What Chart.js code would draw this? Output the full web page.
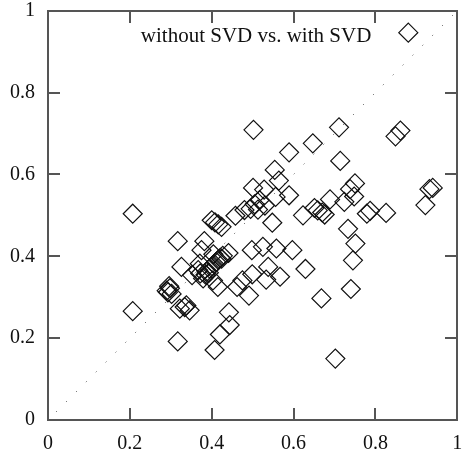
<!DOCTYPE html>
<html>
<head>
<meta charset="utf-8">
<script src="https://cdn.jsdelivr.net/npm/chart.js@4.4.1/dist/chart.umd.min.js"></script>
<style>
  html, body { margin: 0; padding: 0; background: #fff; overflow: hidden; }
  canvas { display: block; }
</style>
</head>
<body>
<canvas id="chart" width="468" height="455"></canvas>
<script>
// ---- data ----
const seriesLabel = 'without SVD vs. with SVD';

const withoutSvd = [
  0.502, 0.711, 0.849, 0.861, 0.647, 0.589, 0.714, 0.554, 0.564, 0.501,
  0.528, 0.556, 0.589, 0.750, 0.738, 0.748, 0.724, 0.689, 0.922, 0.932,
  0.940, 0.826, 0.779, 0.787, 0.623, 0.651, 0.659, 0.670, 0.676, 0.548,
  0.517, 0.505, 0.530, 0.495, 0.513, 0.480, 0.458, 0.207, 0.400, 0.408,
  0.416, 0.424, 0.317, 0.382, 0.733, 0.751, 0.745, 0.740, 0.668, 0.629,
  0.597, 0.558, 0.525, 0.498, 0.538, 0.533, 0.567, 0.499, 0.475, 0.462,
  0.491, 0.442, 0.444, 0.420, 0.407, 0.317, 0.702, 0.207, 0.322, 0.338,
  0.346, 0.334, 0.298, 0.293, 0.296, 0.302, 0.290, 0.326, 0.352, 0.375,
  0.441, 0.395, 0.401, 0.406, 0.411, 0.416, 0.421, 0.427, 0.367, 0.379,
  0.403, 0.415, 0.385, 0.393, 0.372, 0.371, 0.387, 0.424, 0.404
];
const withSvd = [
  0.709, 0.715, 0.693, 0.707, 0.676, 0.654, 0.633, 0.611, 0.585, 0.567,
  0.563, 0.545, 0.549, 0.578, 0.564, 0.546, 0.533, 0.539, 0.525, 0.564,
  0.567, 0.506, 0.504, 0.511, 0.500, 0.518, 0.512, 0.507, 0.502, 0.482,
  0.537, 0.527, 0.524, 0.516, 0.514, 0.513, 0.499, 0.504, 0.488, 0.483,
  0.478, 0.472, 0.437, 0.437, 0.467, 0.431, 0.390, 0.320, 0.297, 0.369,
  0.415, 0.419, 0.423, 0.415, 0.374, 0.343, 0.350, 0.356, 0.341, 0.325,
  0.304, 0.263, 0.232, 0.209, 0.171, 0.192, 0.150, 0.266, 0.272, 0.280,
  0.268, 0.276, 0.322, 0.312, 0.327, 0.308, 0.316, 0.374, 0.354, 0.415,
  0.408, 0.370, 0.376, 0.381, 0.386, 0.391, 0.396, 0.401, 0.366, 0.346,
  0.341, 0.325, 0.355, 0.360, 0.358, 0.382, 0.362, 0.394, 0.405
];

// y = x reference line
const diagX = [0.02, 1];
const diagY = [0.02, 1];

const tickValues = [0, 0.2, 0.4, 0.6, 0.8, 1];
const tickLabels = ['0', '0.2', '0.4', '0.6', '0.8', '1'];

const FONT = '"Liberation Serif", "Times New Roman", serif';

function tickText(value) {
  const i = tickValues.findIndex(t => Math.abs(t - value) < 1e-9);
  return i >= 0 ? tickLabels[i] : '';
}

function useFixedTicks(scale) {
  scale.ticks = tickValues.map(v => ({ value: v }));
}

// key inside the plot, top right: text, then a sample marker
const keyPlugin = {
  id: 'key',
  afterDatasetsDraw(chart) {
    const { ctx, chartArea: a } = chart;
    const ds = chart.data.datasets[0];
    ctx.save();
    ctx.font = '21px ' + FONT;
    ctx.fillStyle = '#111';
    ctx.textAlign = 'right';
    ctx.textBaseline = 'alphabetic';
    ctx.fillText(ds.label, a.right - 86, a.top + 31);

    const cx = a.right - 49, cy = a.top + 22, r = ds.pointRadius;
    ctx.strokeStyle = ds.borderColor;
    ctx.lineWidth = ds.borderWidth;
    ctx.beginPath();
    ctx.moveTo(cx, cy - r);
    ctx.lineTo(cx + r, cy);
    ctx.lineTo(cx, cy + r);
    ctx.lineTo(cx - r, cy);
    ctx.closePath();
    ctx.stroke();
    ctx.restore();
  }
};

// frame + inward ticks on all four sides (gnuplot look), drawn last
const framePlugin = {
  id: 'frame',
  afterDraw(chart) {
    const { ctx, chartArea: a, scales } = chart;
    const len = 12;
    const L = Math.round(a.left), R = Math.round(a.right);
    const T = Math.round(a.top), B = Math.round(a.bottom);
    ctx.save();
    ctx.fillStyle = '#555';
    ctx.fillRect(L - 1, T - 1, R - L + 2, 2);
    ctx.fillRect(L - 1, B - 1, R - L + 2, 2);
    ctx.fillRect(L - 1, T - 1, 2, B - T + 2);
    ctx.fillRect(R - 1, T - 1, 2, B - T + 2);
    tickValues.forEach(v => {
      const px = Math.round(scales.x.getPixelForValue(v));
      ctx.fillRect(px - 1, B - len, 2, len);
      ctx.fillRect(px - 1, T, 2, len);
      const py = Math.round(scales.y.getPixelForValue(v));
      ctx.fillRect(L, py - 1, len, 2);
      ctx.fillRect(R - len, py - 1, len, 2);
    });
    ctx.restore();
  }
};

const points = withoutSvd.map((x, i) => ({ x, y: withSvd[i] }));
const diagonal = diagX.map((x, i) => ({ x, y: diagY[i] }));

new Chart(document.getElementById('chart'), {
  type: 'scatter',
  data: {
    datasets: [
      {
        label: seriesLabel,
        data: points,
        pointStyle: 'rectRot',
        pointRadius: 9.5,
        pointHoverRadius: 9.5,
        borderColor: '#111',
        backgroundColor: 'rgba(0,0,0,0)',
        borderWidth: 1.2
      },
      {
        label: 'y = x',
        type: 'line',
        data: diagonal,
        borderColor: '#444',
        borderWidth: 1,
        borderDash: [1, 13],
        pointRadius: 0,
        fill: false
      }
    ]
  },
  options: {
    responsive: false,
    animation: false,
    layout: { padding: { top: 9.3, right: 0, left: 0, bottom: 0 } },
    plugins: {
      legend: { display: false },
      tooltip: { enabled: false }
    },
    scales: {
      x: {
        type: 'linear',
        min: 0,
        max: 1,
        afterBuildTicks: useFixedTicks,
        afterFit(scale) {
          scale.height = 35;
          scale.paddingLeft = 0;
          scale.paddingRight = 0;
        },
        grid: { display: false, drawTicks: false, tickLength: 0 },
        border: { display: false },
        ticks: {
          callback: tickText,
          color: '#111',
          padding: 14,
          maxRotation: 0,
          autoSkip: false,
          font: { family: FONT, size: 20, lineHeight: 1 }
        }
      },
      y: {
        type: 'linear',
        min: 0,
        max: 1,
        afterBuildTicks: useFixedTicks,
        afterFit(scale) {
          scale.width = 48;
          scale.paddingTop = 0;
          scale.paddingBottom = 0;
        },
        grid: { display: false, drawTicks: false, tickLength: 0 },
        border: { display: false },
        ticks: {
          callback: tickText,
          color: '#111',
          padding: 13,
          autoSkip: false,
          font: { family: FONT, size: 20, lineHeight: 1 }
        }
      }
    }
  },
  plugins: [keyPlugin, framePlugin]
});
</script>
</body>
</html>
